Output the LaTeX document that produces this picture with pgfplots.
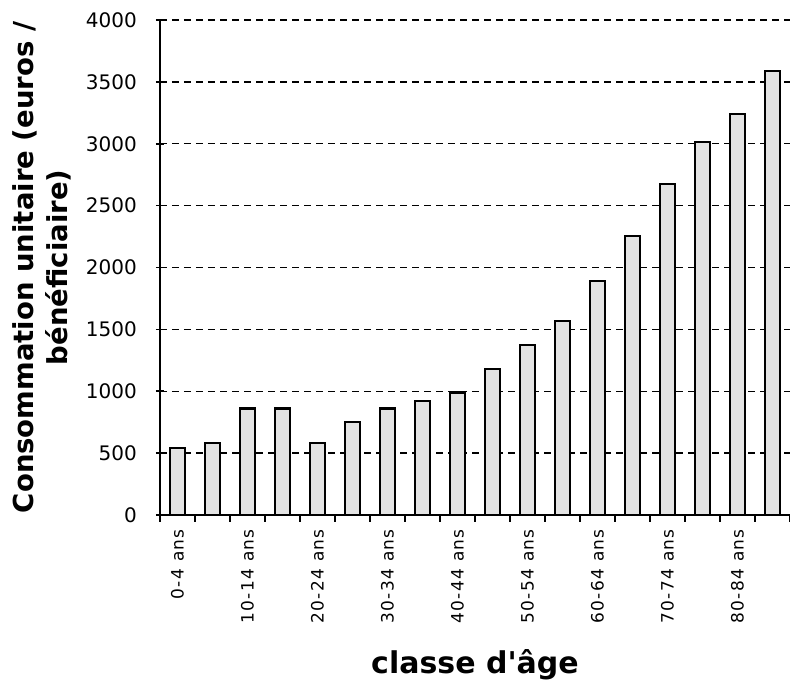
\documentclass[border=0pt]{standalone}
\usepackage{fontspec}
\setmainfont{DejaVu Sans}[Ligatures=TeXOff]
\newfontfamily\tickfont[LetterSpace=8]{DejaVu Sans}
\usepackage{pgfplots}
\pgfplotsset{compat=1.18}

% Consommation unitaire par classe d'âge (euros / bénéficiaire)
\pgfplotstableread{
x  val
0  540
1  585
2  860
3  860
4  585
5  750
6  860
7  920
8  990
9  1180
10 1375
11 1565
12 1890
13 2255
14 2675
15 3015
16 3240
17 3590
}\conso

\begin{document}
\begin{tikzpicture}
\useasboundingbox (0,0) rectangle (790pt,685pt);
\begin{axis}[
  at={(160pt,170pt)}, anchor=south west,
  scale only axis, width=630pt, height=495pt,
  ybar, bar width=15pt,
  xmin=-0.5, xmax=17.5, ymin=0, ymax=4000,
  ytick={0,500,...,4000},
  xtick={0,2,...,16},
  xticklabels={0-4 ans,10-14 ans,20-24 ans,30-34 ans,40-44 ans,50-54 ans,60-64 ans,70-74 ans,80-84 ans},
  minor xtick={-0.5,0.5,...,17.5},
  axis x line*=bottom, axis y line*=left,
  axis line style={line width=2pt, black, -},
  ymajorgrids,
  major grid style={black, line width=1.4pt, dash pattern=on 7pt off 5pt},
  major x tick style={draw=none},
  minor x tick style={black, line width=1.6pt},
  major y tick style={black, line width=1.6pt},
  xtick align=outside, ytick align=center,
  major tick length=8pt, minor tick length=7pt,
  /pgf/number format/assume math mode=true,
  /pgf/number format/1000 sep={},
  yticklabel style={font=\fontsize{20}{20}\selectfont, anchor=east, inner sep=0pt, xshift=-19pt},
  xticklabel style={font=\tickfont\fontsize{17}{17}\selectfont, yshift=-6pt, rotate=90, anchor=east, inner sep=0pt},
  ylabel={Consommation unitaire (euros /\\bénéficiaire)},
  ylabel style={at={(axis description cs:0,0.5)}, anchor=center, yshift=118pt,
    align=center, font=\bfseries\fontsize{27.5}{34}\selectfont},
  xlabel={classe d'âge},
  xlabel style={at={(axis description cs:0.5,0)}, anchor=center, yshift=-150pt,
    font=\bfseries\fontsize{30}{36}\selectfont},
]
\addplot[draw=black, line width=2.2pt, fill=gray!22, bar shift=0pt] table[x=x, y=val] {\conso};
\end{axis}
\end{tikzpicture}
\end{document}
